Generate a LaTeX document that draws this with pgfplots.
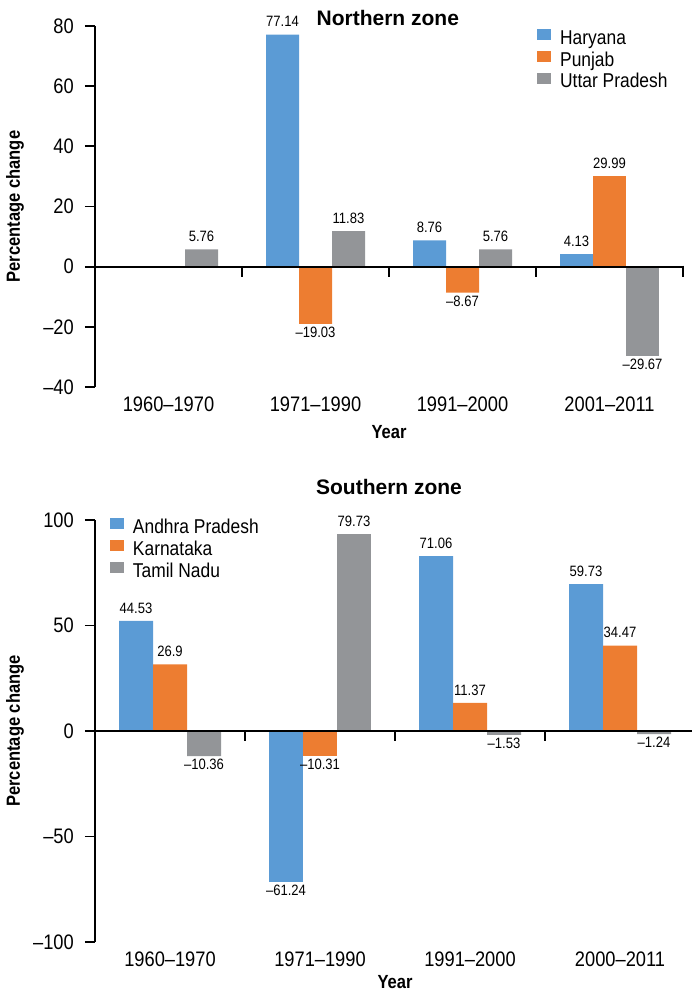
\documentclass[border=0pt]{standalone}
\usepackage{fontspec}
\setmainfont{Liberation Sans}[FakeStretch=0.87]
\newfontfamily\titlefont{Liberation Sans}
\usepackage{pgfplots}
\pgfplotsset{compat=1.18}
\usepackage{pgfplotstable}
\definecolor{cblue}{HTML}{5B9BD5}
\definecolor{corange}{HTML}{ED7D31}
\definecolor{cgray}{HTML}{939598}

% ---------- Northern zone (x y label) ----------
\pgfplotstableread{
x y lab
1 77.14 77.14
2 8.76 8.76
3 4.13 4.13
}\haryPos
\pgfplotstableread{
x y lab
3 29.99 29.99
}\punjPos
\pgfplotstableread{
x y lab
1 -19.03 –19.03
2 -8.67 –8.67
}\punjNeg
\pgfplotstableread{
x y lab
0 5.76 5.76
1 11.83 11.83
2 5.76 5.76
}\uttarPos
\pgfplotstableread{
x y lab
3 -29.67 –29.67
}\uttarNeg
% ---------- Southern zone (bar heights as drawn, labels as printed) ----------
\pgfplotstableread{
x y lab
0 52.2 44.53
2 82.9 71.06
3 69.6 59.73
}\andhraPos
\pgfplotstableread{
x y lab
1 -71.6 –61.24
}\andhraNeg
\pgfplotstableread{
x y lab
0 31.6 26.9
2 13.3 11.37
3 40.5 34.47
}\karnPos
\pgfplotstableread{
x y lab
1 -11.9 –10.31
}\karnNeg
\pgfplotstableread{
x y lab
1 93.2 79.73
}\tamilPos
\pgfplotstableread{
x y lab
0 -11.9 –10.36
2 -1.8 –1.53
3 -1.5 –1.24
}\tamilNeg

\pgfplotsset{
  zonebars/.style={
    scale only axis,
    axis x line*=bottom, axis y line*=left,
    x axis line style={draw=none},
    y axis line style={line width=2pt,-},
    xmin=-0.5, xmax=3.5,
    xtick={0,1,2,3},
    xtick style={draw=none},
    ytick style={line width=1.8pt,black},
    tick align=outside,
    major tick length=10pt,
    ybar=0pt,
    ticklabel style={font=\fontsize{21}{24}\selectfont},
    xticklabel style={inner sep=0pt, yshift=0pt},
    yticklabel style={inner sep=0pt, xshift=-11pt},
    point meta=explicit symbolic,
    nodes near coords,
    every node near coord/.append style={font=\fontsize{15}{17}\selectfont, inner sep=3pt, text depth=4.5pt},
    legend image code/.code={\fill[#1] (0pt,0.5pt) rectangle (14pt,11.5pt);},
    legend cell align=left,
    clip=false,
    every axis title shift=0pt,
    label style={font=\bfseries\fontsize{19}{22}\selectfont},
  },
  posbar/.style={every node near coord/.append style={anchor=south}},
  negbar/.style={forget plot, every node near coord/.append style={anchor=north}},
}

\begin{document}
\begin{tikzpicture}
\useasboundingbox (0,0) rectangle (691pt,998pt);
\begin{axis}[zonebars,
  at={(95pt,611pt)}, anchor=south west,
  width=588pt, height=361pt,
  ymin=-40, ymax=80,
  ytick={-40,-20,0,20,40,60,80},
  yticklabels={–40,–20,0,20,40,60,80},
  xticklabels={1960–1970,1971–1990,1991–2000,2001–2011},
  bar width=33pt,
  title={Northern zone},
  title style={font=\titlefont\bfseries\fontsize{21}{24}\selectfont, at={(axis description cs:0.498,1.022)}, anchor=center, inner sep=0pt},
  xlabel={Year},
  xlabel style={at={(axis description cs:0.5,-0.1247)}, anchor=center, inner sep=0pt},
  ylabel={Percentage change},
  ylabel style={at={(axis description cs:-0.136,0.5)}, anchor=center, inner sep=0pt},
  legend style={draw=none, fill=none, at={(axis description cs:0.752,0.991)}, anchor=north west,
    font=\fontsize{20}{21}\selectfont, inner sep=0pt, outer sep=0pt, row sep=0pt, column sep=9pt,
    nodes={inner sep=0pt, text height=14pt, text depth=6.5pt}},
]
\addplot[fill=cblue, draw=none, bar shift=-33pt, posbar] table[x=x,y=y,meta=lab] {\haryPos};
\addplot[fill=corange, draw=none, bar shift=0pt, posbar] table[x=x,y=y,meta=lab] {\punjPos};
\addplot[fill=cgray, draw=none, bar shift=33pt, posbar] table[x=x,y=y,meta=lab] {\uttarPos};
\legend{Haryana,Punjab,Uttar Pradesh}
\addplot[fill=corange, draw=none, bar shift=0pt, negbar] table[x=x,y=y,meta=lab] {\punjNeg};
\addplot[fill=cgray, draw=none, bar shift=33pt, negbar] table[x=x,y=y,meta=lab] {\uttarNeg};
\draw[line width=2.2pt] (axis cs:-0.5,0) -- (axis cs:3.5,0);
\draw[line width=1.8pt] (axis cs:0.5,0) -- ([yshift=-10pt]axis cs:0.5,0);
\draw[line width=1.8pt] (axis cs:1.5,0) -- ([yshift=-10pt]axis cs:1.5,0);
\draw[line width=1.8pt] (axis cs:2.5,0) -- ([yshift=-10pt]axis cs:2.5,0);
\draw[line width=1.8pt] ([yshift=1pt]axis cs:3.5,0) -- ([yshift=-10pt]axis cs:3.5,0);
\end{axis}

\begin{axis}[zonebars,
  at={(95pt,56pt)}, anchor=south west,
  width=600pt, height=422pt,
  ymin=-100, ymax=100,
  ytick={-100,-50,0,50,100},
  yticklabels={–100,–50,0,50,100},
  xticklabels={1960–1970,1971–1990,1991–2000,2000–2011},
  bar width=34pt,
  title={Southern zone},
  title style={font=\titlefont\bfseries\fontsize{21}{24}\selectfont, at={(axis description cs:0.49,1.078)}, anchor=center, inner sep=0pt},
  xlabel={Year},
  xlabel style={at={(axis description cs:0.5,-0.0948)}, anchor=center, inner sep=0pt},
  ylabel={Percentage change},
  ylabel style={at={(axis description cs:-0.1333,0.5)}, anchor=center, inner sep=0pt},
  legend style={draw=none, fill=none, at={(axis description cs:0.025,1.004)}, anchor=north west,
    font=\fontsize{20}{21}\selectfont, inner sep=0pt, outer sep=0pt, row sep=0pt, column sep=9pt,
    nodes={inner sep=0pt, text height=14pt, text depth=6.5pt}},
]
\addplot[fill=cblue, draw=none, bar shift=-34pt, posbar] table[x=x,y=y,meta=lab] {\andhraPos};
\addplot[fill=corange, draw=none, bar shift=0pt, posbar] table[x=x,y=y,meta=lab] {\karnPos};
\addplot[fill=cgray, draw=none, bar shift=34pt, posbar] table[x=x,y=y,meta=lab] {\tamilPos};
\legend{Andhra Pradesh,Karnataka,Tamil Nadu}
\addplot[fill=cblue, draw=none, bar shift=-34pt, negbar] table[x=x,y=y,meta=lab] {\andhraNeg};
\addplot[fill=corange, draw=none, bar shift=0pt, negbar] table[x=x,y=y,meta=lab] {\karnNeg};
\addplot[fill=cgray, draw=none, bar shift=34pt, negbar] table[x=x,y=y,meta=lab] {\tamilNeg};
\draw[line width=2.2pt] (axis cs:-0.5,0) -- (axis cs:3.5,0);
\draw[line width=1.8pt] (axis cs:0.5,0) -- ([yshift=-10pt]axis cs:0.5,0);
\draw[line width=1.8pt] (axis cs:1.5,0) -- ([yshift=-10pt]axis cs:1.5,0);
\draw[line width=1.8pt] (axis cs:2.5,0) -- ([yshift=-10pt]axis cs:2.5,0);
\end{axis}
\end{tikzpicture}
\end{document}
